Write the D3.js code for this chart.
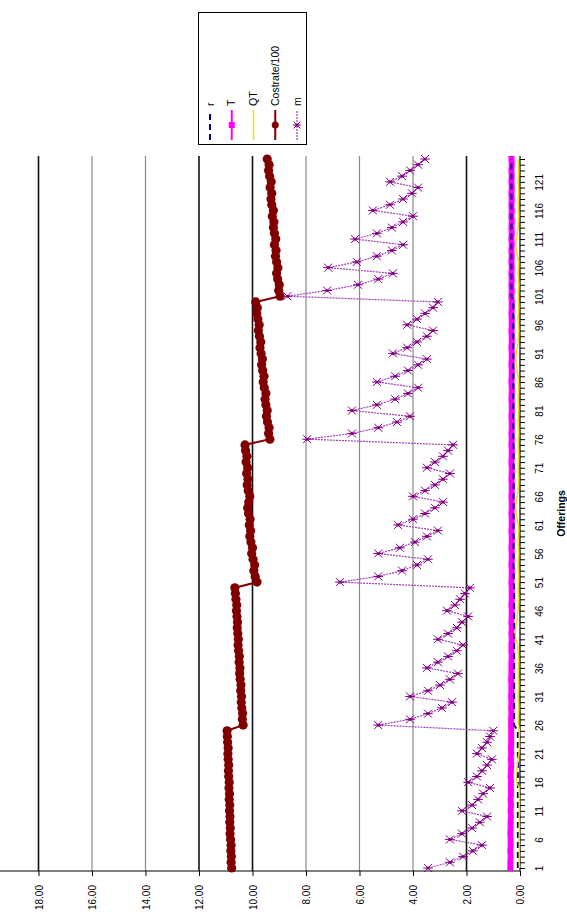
<!DOCTYPE html>
<html>
<head>
<meta charset="utf-8">
<script src="https://cdn.jsdelivr.net/npm/d3@7"></script>
<style>
  body { margin: 0; background: #fff; }
  text { font-family: Arial, "Liberation Sans", sans-serif; }
</style>
</head>
<body>
<div id="chart"></div>
<script>
// Offerings 1..125
const offerings = d3.range(1, 126);
const offeringLabels = d3.range(1, 126, 5);
const valueTicks = [0, 2, 4, 6, 8, 10, 12, 14, 16, 18];
const darkGrid = [2, 10, 12, 18];

const costrate = [
  10.78,10.80,10.79,10.81,10.80, 10.82,10.84,10.83,10.85,10.84, 10.86,10.85,10.87,10.86,10.88, 10.87,10.89,10.90,10.89,10.91, 10.92,10.91,10.93,10.94,10.95,
  10.35,10.38,10.37,10.40,10.42, 10.41,10.44,10.43,10.46,10.48, 10.47,10.50,10.49,10.52,10.54, 10.53,10.55,10.57,10.56,10.58, 10.60,10.59,10.62,10.64,10.66,
  9.83,9.90,9.95,9.92,9.98, 10.03,10.00,10.06,10.10,10.07, 10.12,10.09,10.15,10.18,10.14, 10.10,10.16,10.20,10.17,10.22, 10.18,10.24,10.21,10.26,10.28,
  9.35,9.40,9.38,9.44,9.48, 9.45,9.50,9.53,9.50,9.56, 9.60,9.57,9.62,9.66,9.63, 9.68,9.72,9.69,9.74,9.78, 9.75,9.80,9.84,9.82,9.88,
  8.97,9.02,9.00,9.06,9.10, 9.05,9.10,9.14,9.12,9.18, 9.13,9.18,9.22,9.20,9.26, 9.22,9.28,9.31,9.28,9.34, 9.30,9.36,9.40,9.38,9.45
];

const mValues = [
  3.44,2.62,2.13,1.76,1.42, 2.62,2.17,1.79,1.50,1.23, 2.17,1.79,1.57,1.38,1.12, 1.94,1.61,1.42,1.23,1.05, 1.61,1.42,1.23,1.12,1.00,
  5.30,4.11,3.44,2.92,2.54, 4.11,3.44,2.99,2.62,2.32, 3.48,3.07,2.69,2.36,2.13, 3.07,2.69,2.36,2.17,1.94, 2.73,2.43,2.24,2.06,1.87,
  6.73,5.30,4.41,3.85,3.44, 5.30,4.49,3.93,3.48,3.07, 4.56,4.00,3.55,3.18,2.88, 4.00,3.55,3.18,2.88,2.62, 3.48,3.18,2.88,2.69,2.50,
  7.96,6.28,5.30,4.60,4.11, 6.28,5.35,4.67,4.19,3.81, 5.35,4.67,4.19,3.81,3.48, 4.75,4.22,3.85,3.48,3.25, 4.22,3.85,3.55,3.25,3.07,
  8.70,7.21,6.06,5.30,4.75, 7.17,6.10,5.35,4.79,4.37, 6.17,5.35,4.79,4.37,4.00, 5.50,4.86,4.37,4.04,3.81, 4.86,4.41,4.11,3.81,3.55
];

const tValues = [
  0.36,0.36,0.35,0.36,0.35, 0.35,0.36,0.35,0.35,0.34, 0.35,0.34,0.35,0.34,0.34, 0.34,0.35,0.34,0.33,0.34, 0.33,0.34,0.33,0.33,0.33,
  0.33,0.33,0.32,0.33,0.32, 0.33,0.32,0.32,0.33,0.32, 0.32,0.32,0.31,0.32,0.32, 0.31,0.32,0.31,0.32,0.31, 0.31,0.32,0.31,0.31,0.31,
  0.32,0.31,0.31,0.32,0.31, 0.31,0.32,0.31,0.31,0.32, 0.31,0.31,0.32,0.31,0.31, 0.32,0.31,0.31,0.32,0.31, 0.31,0.32,0.31,0.31,0.32,
  0.31,0.32,0.31,0.31,0.32, 0.31,0.31,0.32,0.31,0.31, 0.32,0.31,0.31,0.32,0.31, 0.31,0.32,0.31,0.31,0.32, 0.31,0.31,0.32,0.31,0.31,
  0.32,0.31,0.32,0.31,0.32, 0.31,0.32,0.31,0.32,0.31, 0.32,0.31,0.32,0.31,0.32, 0.31,0.32,0.31,0.32,0.31, 0.32,0.31,0.32,0.31,0.32
];

const rValues = [
  0.08,0.08,0.08,0.08,0.08, 0.08,0.08,0.08,0.08,0.08, 0.08,0.08,0.08,0.08,0.08, 0.08,0.08,0.08,0.08,0.08, 0.08,0.08,0.08,0.08,0.08,
  0.22,0.22,0.22,0.22,0.22, 0.22,0.22,0.22,0.22,0.22, 0.22,0.22,0.22,0.22,0.22, 0.22,0.22,0.22,0.22,0.22, 0.22,0.22,0.22,0.22,0.22,
  0.24,0.24,0.24,0.24,0.24, 0.24,0.24,0.24,0.24,0.24, 0.24,0.24,0.24,0.24,0.24, 0.24,0.24,0.24,0.24,0.24, 0.24,0.24,0.24,0.24,0.24,
  0.25,0.25,0.25,0.25,0.25, 0.25,0.25,0.25,0.25,0.25, 0.25,0.25,0.25,0.25,0.25, 0.25,0.25,0.25,0.25,0.25, 0.25,0.25,0.25,0.25,0.25,
  0.32,0.32,0.32,0.32,0.32, 0.32,0.32,0.32,0.32,0.32, 0.32,0.32,0.32,0.32,0.32, 0.32,0.32,0.32,0.32,0.32, 0.32,0.32,0.32,0.32,0.32
];

const qtValues = [
  0.02,0.03,0.02,0.03,0.02, 0.03,0.02,0.03,0.02,0.03, 0.02,0.03,0.02,0.03,0.02, 0.12,0.14,0.12,0.10,0.08, 0.04,0.03,0.02,0.03,0.02,
  0.06,0.07,0.06,0.05,0.06, 0.07,0.06,0.05,0.06,0.07, 0.06,0.05,0.06,0.07,0.08, 0.16,0.18,0.16,0.12,0.10, 0.07,0.06,0.05,0.06,0.07,
  0.06,0.05,0.06,0.07,0.06, 0.05,0.06,0.07,0.06,0.05, 0.06,0.10,0.14,0.16,0.14, 0.10,0.07,0.06,0.05,0.06, 0.07,0.06,0.05,0.06,0.07,
  0.06,0.05,0.06,0.07,0.06, 0.05,0.06,0.07,0.06,0.05, 0.06,0.07,0.10,0.14,0.16, 0.14,0.10,0.07,0.06,0.05, 0.06,0.07,0.06,0.05,0.06,
  0.07,0.06,0.05,0.06,0.07, 0.06,0.05,0.10,0.14,0.16, 0.14,0.10,0.07,0.06,0.05, 0.06,0.07,0.06,0.05,0.06, 0.07,0.06,0.05,0.06,0.07
];

const legendItems = ["r", "T", "QT", "Costrate/100", "m"];

const width = 567, height = 923;
const plotTop = 156, plotBottom = 871, axisX = 520;

const svg = d3.select("#chart").append("svg")
  .attr("width", width)
  .attr("height", height);

// chart is turned on its side: values run right-to-left, offerings bottom-to-top
const x = d3.scaleLinear().domain([0, 18]).range([axisX, 38.5]);
const y = d3.scalePoint().domain(offerings).range([868, 159]);

// grid lines
svg.append("g")
  .selectAll("line")
  .data(valueTicks.filter(v => v > 0))
  .enter().append("line")
  .attr("x1", d => x(d)).attr("x2", d => x(d))
  .attr("y1", plotTop).attr("y2", plotBottom)
  .attr("stroke", d => darkGrid.includes(d) ? "#111" : "#8a8a8a")
  .attr("stroke-width", d => darkGrid.includes(d) ? 1.6 : 1.2);

// value axis (bottom)
const xAxis = svg.append("g")
  .attr("transform", `translate(0,${plotBottom})`)
  .call(d3.axisBottom(x).tickValues(valueTicks).tickFormat(d3.format(".2f")).tickSize(5).tickSizeOuter(0));
xAxis.select(".domain").attr("d", `M0,0H${axisX}`).attr("stroke", "#000").attr("stroke-width", 1.2);
xAxis.selectAll("text")
  .attr("x", 0).attr("y", 0).attr("dy", "0.35em")
  .attr("transform", "translate(0,14) rotate(-90)")
  .attr("text-anchor", "end")
  .attr("font-size", 10)
  .attr("fill", "#000");

// offerings axis (right)
const yAxis = svg.append("g")
  .attr("transform", `translate(${axisX},0)`)
  .call(d3.axisRight(y).tickValues(offerings)
    .tickFormat(d => offeringLabels.includes(d) ? d : "")
    .tickSize(5).tickSizeOuter(0));
yAxis.select(".domain").attr("d", `M0,${plotTop}V${plotBottom}`).attr("stroke", "#000").attr("stroke-width", 1.2);
yAxis.selectAll(".tick line").attr("stroke", "#000");
yAxis.selectAll("text")
  .attr("x", 0).attr("y", 0).attr("dy", "0.35em")
  .attr("transform", "translate(19,0) rotate(-90)")
  .attr("text-anchor", "middle")
  .attr("font-size", 10)
  .attr("fill", "#000");

svg.append("text")
  .attr("transform", `translate(561,${(plotTop + plotBottom) / 2}) rotate(-90)`)
  .attr("text-anchor", "middle")
  .attr("dy", "0.35em")
  .attr("font-size", 10.5)
  .attr("font-weight", "bold")
  .text("Offerings");

function lineFor(values) {
  return d3.line()
    .x((d, i) => x(values[i]))
    .y(d => y(d));
}

// T
svg.append("path")
  .datum(offerings)
  .attr("fill", "none")
  .attr("stroke", "#ff00ff")
  .attr("stroke-width", 3)
  .attr("d", lineFor(tValues));
svg.append("g").selectAll("rect")
  .data(offerings)
  .enter().append("rect")
  .attr("x", (d, i) => x(tValues[i]) - 3)
  .attr("y", d => y(d) - 3)
  .attr("width", 6).attr("height", 6)
  .attr("fill", "#ff00ff");

// r
svg.append("path")
  .datum(offerings)
  .attr("fill", "none")
  .attr("stroke", "#000080")
  .attr("stroke-width", 2)
  .attr("stroke-dasharray", "6,4")
  .attr("d", lineFor(rValues));

// QT
svg.append("path")
  .datum(offerings)
  .attr("fill", "none")
  .attr("stroke", "#f0e000")
  .attr("stroke-width", 1.5)
  .attr("d", lineFor(qtValues));

// Costrate/100
svg.append("path")
  .datum(offerings)
  .attr("fill", "none")
  .attr("stroke", "#800000")
  .attr("stroke-width", 2)
  .attr("d", lineFor(costrate));
svg.append("g").selectAll("circle")
  .data(offerings)
  .enter().append("circle")
  .attr("cx", (d, i) => x(costrate[i]))
  .attr("cy", d => y(d))
  .attr("r", 4.6)
  .attr("fill", "#800000");

// m
svg.append("path")
  .datum(offerings)
  .attr("fill", "none")
  .attr("stroke", "#a040b8")
  .attr("stroke-width", 1.2)
  .attr("stroke-dasharray", "2,1")
  .attr("d", lineFor(mValues));

function drawStar(g, cx, cy, s) {
  g.append("path")
    .attr("d", `M${cx - s},${cy - s}L${cx + s},${cy + s}M${cx - s},${cy + s}L${cx + s},${cy - s}M${cx - s * 1.2},${cy}L${cx + s * 1.2},${cy}`)
    .attr("stroke", "#800080")
    .attr("stroke-width", 1)
    .attr("fill", "none");
  g.append("circle").attr("cx", cx).attr("cy", cy).attr("r", 1.6).attr("fill", "#800080");
}

const stars = svg.append("g");
offerings.forEach((d, i) => drawStar(stars, x(mValues[i]), y(d), 4));

// legend
const legend = svg.append("g");
legend.append("rect")
  .attr("x", 198.5).attr("y", 12.5)
  .attr("width", 108).attr("height", 132)
  .attr("fill", "#fff")
  .attr("stroke", "#000")
  .attr("stroke-width", 1);

const legendX = d3.scalePoint().domain(legendItems).range([210, 297]);
const symTop = 110, symBottom = 140;

legendItems.forEach(name => {
  const cx = legendX(name);
  const g = legend.append("g");
  const ln = g.append("line")
    .attr("x1", cx).attr("x2", cx)
    .attr("y1", symBottom).attr("y2", symTop);
  if (name === "r") {
    ln.attr("stroke", "#000080").attr("stroke-width", 2).attr("stroke-dasharray", "6,4");
  } else if (name === "T") {
    ln.attr("stroke", "#ff00ff").attr("stroke-width", 2);
    g.append("rect").attr("x", cx - 3).attr("y", (symTop + symBottom) / 2 - 3)
      .attr("width", 6).attr("height", 6).attr("fill", "#ff00ff");
  } else if (name === "QT") {
    ln.attr("stroke", "#f0e000").attr("stroke-width", 1.5);
  } else if (name === "Costrate/100") {
    ln.attr("stroke", "#800000").attr("stroke-width", 2);
    g.append("circle").attr("cx", cx).attr("cy", (symTop + symBottom) / 2)
      .attr("r", 3.5).attr("fill", "#800000");
  } else {
    ln.attr("stroke", "#a040b8").attr("stroke-width", 1.2).attr("stroke-dasharray", "2,1");
    drawStar(g, cx, (symTop + symBottom) / 2, 3.5);
  }
  g.append("text")
    .attr("transform", `translate(${cx},${symTop - 4}) rotate(-90)`)
    .attr("dy", "0.35em")
    .attr("text-anchor", "start")
    .attr("font-size", 10.5)
    .text(name);
});
</script>
</body>
</html>
